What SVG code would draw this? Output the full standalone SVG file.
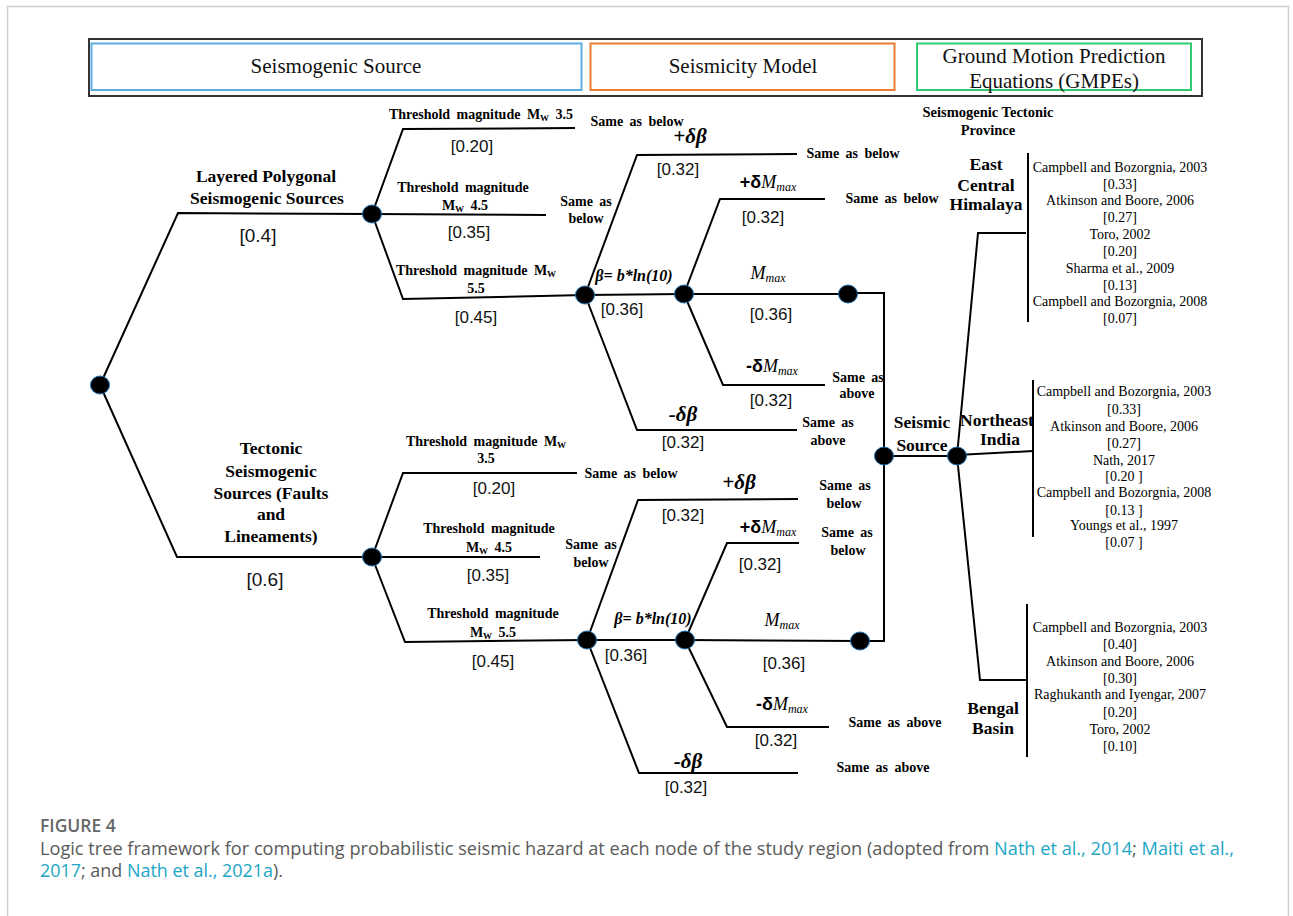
<svg xmlns="http://www.w3.org/2000/svg" width="1293" height="916" viewBox="0 0 1293 916">
<defs>
<style>
.ln{fill:none;stroke:#000;stroke-width:2;stroke-linejoin:miter}
.nd{fill:#000;stroke:#1b6fb0;stroke-width:1}
.hd{font-family:"Liberation Serif",serif;font-size:21px;fill:#111;text-anchor:middle}
.b{font-family:"Liberation Serif",serif;font-weight:bold;font-size:14px;word-spacing:3px;fill:#000;text-anchor:middle}
.b17{font-family:"Liberation Serif",serif;font-weight:bold;font-size:17.5px;fill:#000;text-anchor:middle}
.w{font-family:"Liberation Sans",sans-serif;font-size:17px;fill:#111;text-anchor:middle}
.w20{font-family:"Liberation Sans",sans-serif;font-size:19px;fill:#111;text-anchor:middle}
.g{font-family:"Liberation Serif",serif;font-size:14px;fill:#000;text-anchor:middle}
.bi{font-family:"Liberation Serif",serif;font-weight:bold;font-style:italic;font-size:16px;fill:#000;text-anchor:middle}
.db{font-family:"Liberation Serif",serif;font-weight:bold;font-style:italic;font-size:21px;fill:#000;text-anchor:middle}
.dm{font-family:"Liberation Serif",serif;font-style:italic;font-size:18px;fill:#000;text-anchor:middle}
.ds{font-family:"Liberation Sans",sans-serif;font-weight:bold;font-style:normal}
.cap{font-family:"Open Sans","Noto Sans",sans-serif;font-size:17.5px;fill:#5a5a5a}
.lk{fill:#1ba6c6}
</style>
</defs>
<rect x="7.5" y="6.5" width="1281" height="940" fill="none" stroke="#cfcfcf" stroke-width="1.5"/>
<g id="header">
<rect x="89" y="39" width="1113" height="57" fill="#fff" stroke="#333" stroke-width="2"/>
<rect x="91.5" y="43.5" width="490" height="46.5" fill="none" stroke="#5dade2" stroke-width="2"/>
<rect x="590.5" y="43.5" width="304" height="46.5" fill="none" stroke="#ed7d31" stroke-width="2"/>
<rect x="917" y="43.5" width="274" height="46.5" fill="none" stroke="#2ecc71" stroke-width="2"/>
<text class="hd" x="336" y="73">Seismogenic Source</text>
<text class="hd" x="743" y="73">Seismicity Model</text>
<text class="hd" x="1054" y="63">Ground Motion Prediction</text>
<text class="hd" x="1054" y="88">Equations (GMPEs)</text>
</g>
<g id="connectors">
<path class="ln" d="M100,385 L178,213 L372,214"/>
<path class="ln" d="M100,385 L177,557 L372,557"/>
<path class="ln" d="M372,214 L403,129 L575,128"/>
<path class="ln" d="M372,214 L546,215"/>
<path class="ln" d="M372,214 L403,299 L585,295"/>
<path class="ln" d="M585,295 L637,155 L797,154"/>
<path class="ln" d="M585,295 L684,294"/>
<path class="ln" d="M585,295 L637,430 L797,430"/>
<path class="ln" d="M684,294 L720,199 L825,199"/>
<path class="ln" d="M684,294 L848,294"/>
<path class="ln" d="M684,294 L723,385 L825,385"/>
<path class="ln" d="M848,293 L884,293 L884,641 L860,641"/>
<path class="ln" d="M884,456 L957,456"/>
<path class="ln" d="M957,456 L978,233 L1026,233"/>
<path class="ln" d="M957,455 L1033,451"/>
<path class="ln" d="M957,456 L980,680 L1027,680"/>
<path class="ln" d="M1028,153 V322"/>
<path class="ln" d="M1033,380 V537"/>
<path class="ln" d="M1027,604 V757"/>
<path class="ln" d="M372,557 L403,473 L577,473"/>
<path class="ln" d="M372,557 L540,557"/>
<path class="ln" d="M372,557 L405,642 L587,640"/>
<path class="ln" d="M587,640 L638,500 L798,499"/>
<path class="ln" d="M587,640 L685,640"/>
<path class="ln" d="M587,640 L639,773 L798,773"/>
<path class="ln" d="M685,640 L727,543 L799,543"/>
<path class="ln" d="M685,640 L860,641"/>
<path class="ln" d="M685,640 L727,727 L829,727"/>
</g>
<g id="node-root"><ellipse class="nd" cx="100" cy="385" rx="9.5" ry="9"/></g>
<g id="node-layered"><ellipse class="nd" cx="372" cy="214" rx="9.5" ry="9"/>
<text class="b17" x="266" y="182">Layered Polygonal</text>
<text class="b17" x="267" y="204">Seismogenic Sources</text>
<text class="w20" x="258" y="242">[0.4]</text>
</g>
<g id="node-tectonic"><ellipse class="nd" cx="372" cy="557" rx="9.5" ry="9"/>
<text class="b17" x="271" y="454">Tectonic</text>
<text class="b17" x="271" y="477">Seismogenic</text>
<text class="b17" x="271" y="499">Sources (Faults</text>
<text class="b17" x="271" y="520">and</text>
<text class="b17" x="271" y="542">Lineaments)</text>
<text class="w20" x="265" y="586">[0.6]</text>
</g>
<g id="upper-thresholds">
<text class="b" x="481" y="119">Threshold magnitude M<tspan font-size="9" dy="2">W</tspan><tspan dy="-2"> 3.5</tspan></text>
<text class="w" x="472" y="152">[0.20]</text>
<text class="b" x="637" y="126">Same as below</text>
<text class="b" x="463" y="192">Threshold magnitude</text>
<text class="b" x="465" y="210">M<tspan font-size="9" dy="2">W</tspan><tspan dy="-2"> 4.5</tspan></text>
<text class="w" x="469" y="238">[0.35]</text>
<text class="b" x="586" y="206">Same as</text>
<text class="b" x="586" y="223">below</text>
<text class="b" x="476" y="275">Threshold magnitude M<tspan font-size="9" dy="2">W</tspan></text>
<text class="b" x="476" y="293">5.5</text>
<text class="w" x="476" y="323">[0.45]</text>
</g>
<g id="node-upper-beta"><ellipse class="nd" cx="585" cy="295" rx="9.5" ry="9"/>
<text class="db" x="690" y="143">+δβ</text>
<text class="w" x="678" y="175">[0.32]</text>
<text class="b" x="853" y="158">Same as below</text>
<text class="bi" x="634" y="281">β= b*ln(10)</text>
<text class="w" x="622" y="315">[0.36]</text>
<text class="db" x="683" y="421">-δβ</text>
<text class="w" x="683" y="448">[0.32]</text>
<text class="b" x="828" y="427">Same as</text>
<text class="b" x="828" y="445">above</text>
</g>
<g id="node-upper-mmax"><ellipse class="nd" cx="684" cy="294" rx="9.5" ry="9"/>
<text class="dm" x="768" y="188"><tspan class="ds">+δ</tspan>M<tspan font-size="12" dy="3">max</tspan></text>
<text class="w" x="763" y="223">[0.32]</text>
<text class="b" x="892" y="203">Same as below</text>
<text class="dm" x="768" y="279">M<tspan font-size="12" dy="3">max</tspan></text>
<text class="w" x="771" y="320">[0.36]</text>
<text class="dm" x="772" y="372"><tspan class="ds">-δ</tspan>M<tspan font-size="12" dy="3">max</tspan></text>
<text class="w" x="771" y="406">[0.32]</text>
<text class="b" x="858" y="382">Same as</text>
<text class="b" x="857" y="398">above</text>
</g>
<g id="node-upper-end"><ellipse class="nd" cx="848" cy="294" rx="9.5" ry="9"/></g>
<g id="lower-thresholds">
<text class="b" x="486" y="446">Threshold magnitude M<tspan font-size="9" dy="2">W</tspan></text>
<text class="b" x="486" y="463">3.5</text>
<text class="w" x="494" y="494">[0.20]</text>
<text class="b" x="631" y="478">Same as below</text>
<text class="b" x="489" y="533">Threshold magnitude</text>
<text class="b" x="489" y="552">M<tspan font-size="9" dy="2">W</tspan><tspan dy="-2"> 4.5</tspan></text>
<text class="w" x="488" y="581">[0.35]</text>
<text class="b" x="591" y="549">Same as</text>
<text class="b" x="591" y="567">below</text>
<text class="b" x="493" y="618">Threshold magnitude</text>
<text class="b" x="493" y="637">M<tspan font-size="9" dy="2">W</tspan><tspan dy="-2"> 5.5</tspan></text>
<text class="w" x="493" y="667">[0.45]</text>
</g>
<g id="node-lower-beta"><ellipse class="nd" cx="587" cy="640" rx="9.5" ry="9"/>
<text class="db" x="739" y="489">+δβ</text>
<text class="w" x="683" y="521">[0.32]</text>
<text class="b" x="845" y="490">Same as</text>
<text class="b" x="844" y="508">below</text>
<text class="bi" x="653" y="624">β= b*ln(10)</text>
<text class="w" x="626" y="661">[0.36]</text>
<text class="db" x="688" y="768">-δβ</text>
<text class="w" x="686" y="793">[0.32]</text>
<text class="b" x="883" y="772">Same as above</text>
</g>
<g id="node-lower-mmax"><ellipse class="nd" cx="685" cy="640" rx="9.5" ry="9"/>
<text class="dm" x="768" y="533"><tspan class="ds">+δ</tspan>M<tspan font-size="12" dy="3">max</tspan></text>
<text class="w" x="760" y="570">[0.32]</text>
<text class="b" x="847" y="537">Same as</text>
<text class="b" x="848" y="555">below</text>
<text class="dm" x="782" y="626">M<tspan font-size="12" dy="3">max</tspan></text>
<text class="w" x="784" y="669">[0.36]</text>
<text class="dm" x="782" y="710"><tspan class="ds">-δ</tspan>M<tspan font-size="12" dy="3">max</tspan></text>
<text class="w" x="776" y="746">[0.32]</text>
<text class="b" x="895" y="727">Same as above</text>
</g>
<g id="node-lower-end"><ellipse class="nd" cx="860" cy="641" rx="9.5" ry="9"/></g>
<g id="node-seismic-source"><ellipse class="nd" cx="884" cy="456" rx="9.5" ry="9"/>
<text class="b17" x="922" y="428">Seismic</text>
<text class="b17" x="922" y="451">Source</text>
</g>
<g id="node-province"><ellipse class="nd" cx="957" cy="456" rx="9.5" ry="9"/>
<text class="b" x="988" y="117" style="font-size:14.5px;word-spacing:0">Seismogenic Tectonic</text>
<text class="b" x="988" y="135" style="font-size:14.5px">Province</text>
</g>
<g id="east-central-himalaya">
<text class="b17" x="986" y="170">East</text>
<text class="b17" x="986" y="191">Central</text>
<text class="b17" x="986" y="210">Himalaya</text>
<text class="g" x="1120" y="172">Campbell and Bozorgnia,  2003</text>
<text class="g" x="1120" y="189">[0.33]</text>
<text class="g" x="1120" y="205">Atkinson and Boore, 2006</text>
<text class="g" x="1120" y="222">[0.27]</text>
<text class="g" x="1120" y="239">Toro, 2002</text>
<text class="g" x="1120" y="256">[0.20]</text>
<text class="g" x="1120" y="273">Sharma  et al., 2009</text>
<text class="g" x="1120" y="290">[0.13]</text>
<text class="g" x="1120" y="306">Campbell and Bozorgnia,  2008</text>
<text class="g" x="1120" y="323">[0.07]</text>
</g>
<g id="northeast-india">
<text class="b17" x="997" y="426">Northeast</text>
<text class="b17" x="1000" y="445">India</text>
<text class="g" x="1124" y="396">Campbell and Bozorgnia,  2003</text>
<text class="g" x="1124" y="414">[0.33]</text>
<text class="g" x="1124" y="431">Atkinson and Boore, 2006</text>
<text class="g" x="1124" y="448">[0.27]</text>
<text class="g" x="1124" y="465">Nath, 2017</text>
<text class="g" x="1124" y="481">[0.20 ]</text>
<text class="g" x="1124" y="497">Campbell and Bozorgnia,  2008</text>
<text class="g" x="1124" y="515">[0.13 ]</text>
<text class="g" x="1124" y="530">Youngs  et al., 1997</text>
<text class="g" x="1124" y="547">[0.07 ]</text>
</g>
<g id="bengal-basin">
<text class="b17" x="993" y="714">Bengal</text>
<text class="b17" x="993" y="734">Basin</text>
<text class="g" x="1120" y="632">Campbell and Bozorgnia,  2003</text>
<text class="g" x="1120" y="649">[0.40]</text>
<text class="g" x="1120" y="666">Atkinson and Boore, 2006</text>
<text class="g" x="1120" y="683">[0.30]</text>
<text class="g" x="1120" y="699">Raghukanth  and Iyengar, 2007</text>
<text class="g" x="1120" y="717">[0.20]</text>
<text class="g" x="1120" y="734">Toro, 2002</text>
<text class="g" x="1120" y="751">[0.10]</text>
</g>
<g id="caption">
<text class="cap" x="40" y="832" style="font-weight:600;fill:#666">FIGURE 4</text>
<text class="cap" x="40" y="855" textLength="1194" lengthAdjust="spacingAndGlyphs">Logic tree framework for computing probabilistic seismic hazard at each node of the study region (adopted from <tspan class="lk">Nath et al., 2014</tspan>; <tspan class="lk">Maiti et al.,</tspan></text>
<text class="cap" x="40" y="877" textLength="243" lengthAdjust="spacingAndGlyphs"><tspan class="lk">2017</tspan>; and <tspan class="lk">Nath et al., 2021a</tspan>).</text>
</g>
</svg>
